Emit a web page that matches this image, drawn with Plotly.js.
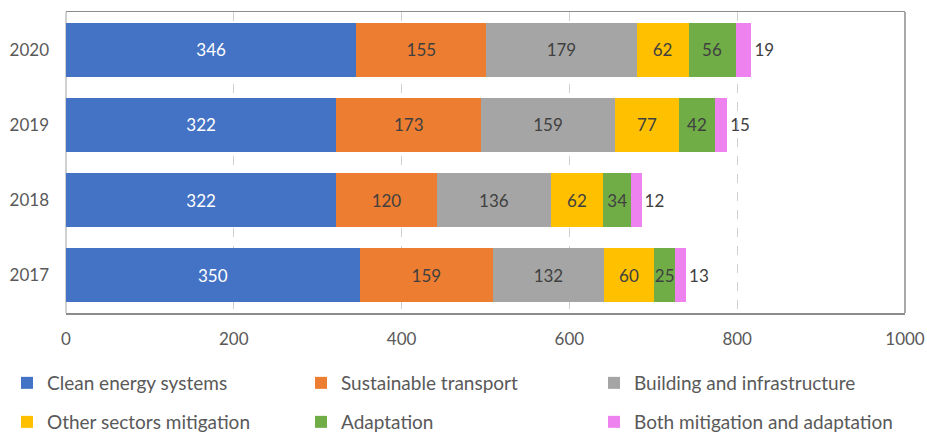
<!DOCTYPE html>
<html>
<head>
<meta charset="utf-8">
<script src="https://cdn.plot.ly/plotly-3.0.1.min.js"></script>
<style>html,body{margin:0;padding:0;background:#fff;}#chart{width:927px;height:435px;}</style>
</head>
<body>
<div id="chart"></div>
<script>
const years = ["2017", "2018", "2019", "2020"];
const seriesNames = ["Clean energy systems", "Sustainable transport", "Building and infrastructure",
                     "Other sectors mitigation", "Adaptation", "Both mitigation and adaptation"];
const cleanEnergy = [350, 322, 322, 346];
const sustainableTransport = [159, 120, 173, 155];
const buildingInfra = [132, 136, 159, 179];
const otherMitigation = [60, 62, 77, 62];
const adaptation = [25, 34, 42, 56];
const bothMitAdapt = [13, 12, 15, 19];
const xTicks = [0, 200, 400, 600, 800, 1000];

const values = [cleanEnergy, sustainableTransport, buildingInfra, otherMitigation, adaptation, bothMitAdapt];
const colors = ["#4472C4", "#ED7D31", "#A5A5A5", "#FFC000", "#70AD47", "#EE82EE"];
const textColors = ["#ffffff", "#404040", "#404040", "#404040", "#404040", "#404040"];
const FONT = "Lato, 'Open Sans', sans-serif";
const W = 927, H = 435;

const legendIds = ["legend", "legend2", "legend3", "legend4", "legend5", "legend6"];
// legend anchor positions in pixels (left edge, vertical centre)
const legendPos = [[7, 383], [301, 383], [594, 383], [7, 422], [301, 422], [594, 422]];

const traces = values.map((v, i) => ({
  type: "bar",
  orientation: "h",
  name: seriesNames[i],
  y: years,
  x: v,
  text: v.map(String),
  textposition: i === 5 ? "outside" : "inside",
  insidetextanchor: "middle",
  textangle: 0,
  constraintext: "none",
  cliponaxis: false,
  textfont: {family: FONT, size: 17, color: textColors[i]},
  marker: {color: colors[i], line: {width: 0}},
  legend: legendIds[i],
  hoverinfo: "skip"
}));

const layout = {
  width: W,
  height: H,
  margin: {l: 66, r: 22, t: 12, b: 122},
  paper_bgcolor: "#ffffff",
  plot_bgcolor: "#ffffff",
  barmode: "stack",
  bargap: 0.285,
  showlegend: true,
  hovermode: false,
  font: {family: FONT, color: "#595959", size: 16},
  xaxis: {
    range: [0, 1000],
    tickvals: xTicks,
    ticktext: xTicks.map(String),
    showgrid: true,
    gridcolor: "#d0d0d0",
    griddash: "dash",
    gridwidth: 1,
    zeroline: true,
    zerolinecolor: "#d0d0d0",
    zerolinewidth: 1.5,
    showline: true,
    mirror: true,
    linecolor: "#8c8c8c",
    linewidth: 1.5,
    ticks: "",
    ticklabelstandoff: 10,
    tickfont: {family: FONT, size: 17, color: "#595959"},
    automargin: false,
    fixedrange: true
  },
  yaxis: {
    categoryorder: "array",
    categoryarray: years,
    showgrid: false,
    zeroline: false,
    showline: false,
    ticks: "",
    ticklabelstandoff: 16,
    tickfont: {family: FONT, size: 17, color: "#595959"},
    automargin: false,
    fixedrange: true
  },
  shapes: [{
    type: "line", xref: "paper", yref: "paper", x0: 1, x1: 1, y0: 0, y1: 1,
    line: {color: "#8c8c8c", width: 1.5}
  }]
};

legendIds.forEach((id, i) => {
  layout[id] = {
    orientation: "h",
    font: {family: FONT, size: 19, color: "#595959"},
    xref: "container",
    yref: "container",
    x: legendPos[i][0] / W,
    y: 1 - legendPos[i][1] / H,
    xanchor: "left",
    yanchor: "middle",
    bgcolor: "rgba(0,0,0,0)",
    borderwidth: 0
  };
});

Plotly.newPlot("chart", traces, layout, {displayModeBar: false, staticPlot: true});
</script>
</body>
</html>
